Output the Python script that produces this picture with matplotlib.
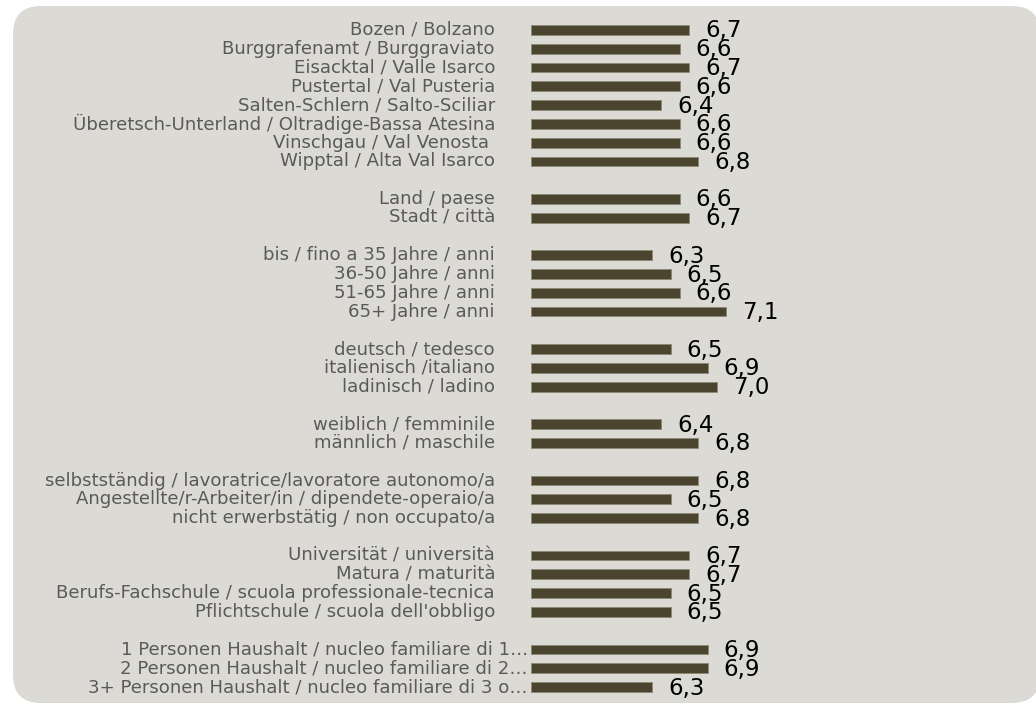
import matplotlib
matplotlib.use("Agg")
import matplotlib.pyplot as plt
from matplotlib.patches import FancyBboxPatch
from matplotlib.transforms import offset_copy, blended_transform_factory, IdentityTransform

# groups of categories, blank row between groups
groups = [
    ["Bozen / Bolzano", "Burggrafenamt / Burggraviato", "Eisacktal / Valle Isarco",
     "Pustertal / Val Pusteria", "Salten-Schlern / Salto-Sciliar",
     "Überetsch-Unterland / Oltradige-Bassa Atesina", "Vinschgau / Val Venosta ",
     "Wipptal / Alta Val Isarco"],
    ["Land / paese", "Stadt / città"],
    ["bis / fino a 35 Jahre / anni", "36-50 Jahre / anni", "51-65 Jahre / anni",
     "65+ Jahre / anni"],
    ["deutsch / tedesco", "italienisch /italiano", "ladinisch / ladino"],
    ["weiblich / femminile", "männlich / maschile"],
    ["selbstständig / lavoratrice/lavoratore autonomo/a",
     "Angestellte/r-Arbeiter/in / dipendete-operaio/a",
     "nicht erwerbstätig / non occupato/a"],
    ["Universität / università", "Matura / maturità",
     "Berufs-Fachschule / scuola professionale-tecnica",
     "Pflichtschule / scuola dell'obbligo"],
    ["1 Personen Haushalt / nucleo familiare di 1…",
     "2 Personen Haushalt / nucleo familiare di 2…",
     "3+ Personen Haushalt / nucleo familiare di 3 o…"],
]
values = [
    [6.7, 6.6, 6.7, 6.6, 6.4, 6.6, 6.6, 6.8],
    [6.6, 6.7],
    [6.3, 6.5, 6.6, 7.1],
    [6.5, 6.9, 7.0],
    [6.4, 6.8],
    [6.8, 6.5, 6.8],
    [6.7, 6.7, 6.5, 6.5],
    [6.9, 6.9, 6.3],
]

BAR = "#4b4530"
BG = "#dbdad5"

fig = plt.figure(figsize=(10.36, 7.05), dpi=100)
fig.patch.set_facecolor("white")

# rounded grey panel, drawn in pixel coordinates
panel = FancyBboxPatch((13, 2), 1040 - 13, 699 - 2,
                       boxstyle="round,pad=0,rounding_size=28",
                       transform=IdentityTransform(), facecolor=BG, edgecolor="none",
                       zorder=-10)
fig.patches.append(panel)

ax = fig.add_axes([531 / 1036, 1 - 696.4 / 705, 465 / 1036, 675.8 / 705])
ax.set_facecolor("none")
for s in ax.spines.values():
    s.set_visible(False)
ax.set_xticks([])
ax.set_yticks([])

rows, labels, vals = [], [], []
r = 0
for g, v in zip(groups, values):
    for lab, val in zip(g, v):
        rows.append(r)
        labels.append(lab)
        vals.append(val)
        r += 1
    r += 1
nrows = r - 1

ax.set_xlim(5, 10)
ax.set_ylim(nrows - 0.5, -0.5)

ax.barh(rows, [x - 5 for x in vals], left=5, height=0.52, color=BAR,
        edgecolor="#8c8874", linewidth=0.6)

trans = blended_transform_factory(ax.transAxes, ax.transData)
for y, lab, val in zip(rows, labels, vals):
    pad = 3 if lab.endswith("…") else 36
    ax.text(0, y, lab, transform=offset_copy(trans, fig=fig, x=-pad, y=0, units="dots"),
            ha="right", va="center", fontsize=13.1, color="#5a5a5a")
    ax.text(val, y, f"{val:.1f}".replace(".", ","),
            transform=offset_copy(ax.transData, fig=fig, x=16, y=-1, units="dots"),
            ha="left", va="center", fontsize=16.5, color="black")

fig.savefig("out.png", dpi=100)
